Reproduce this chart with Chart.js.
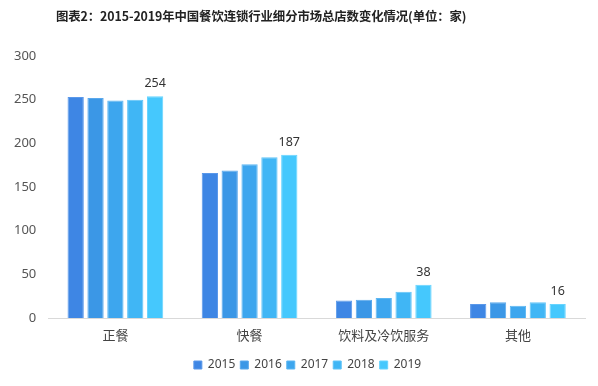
<!DOCTYPE html>
<html><head><meta charset="utf-8">
<script src="https://cdn.jsdelivr.net/npm/chart.js@4/dist/chart.umd.min.js"></script>
<style>
html,body{margin:0;padding:0;background:#fff;}
#wrap{position:relative;width:598px;height:386px;}
#title{position:absolute;left:56px;top:7px;white-space:nowrap;font:bold 12.4px "Noto Sans CJK SC","Liberation Sans",sans-serif;color:#222;letter-spacing:-0.1px;}
canvas{position:absolute;left:0;top:0;}
</style></head><body>
<div id="wrap">
<canvas id="c" width="598" height="386"></canvas>
<div id="title">图表2：2015-2019年中国餐饮连锁行业细分市场总店数变化情况(单位：家)</div></div>
<script>
const categories = ["正餐","快餐","饮料及冷饮服务","其他"];
const years = ["2015","2016","2017","2018","2019"];
const v2015 = [253,166,20,16];
const v2016 = [252,169,21,18];
const v2017 = [249,176,23,14];
const v2018 = [250,184,30,18];
const v2019 = [254,187,38,16];
const yTicks = [0,50,100,150,200,250,300];
const colors = ["#3E86E4","#3B97E6","#3DA6EE","#40B6F5","#45C8FD"];
const borders = ["#5A98EA","#5AA8EC","#5CB6F2","#60C4F8","#66D4FF"];
const series = [v2015,v2016,v2017,v2018,v2019];

const labelPlugin = {
  id:'lastLabels',
  afterDatasetsDraw(chart){
    const ctx = chart.ctx;
    const meta = chart.getDatasetMeta(4);
    ctx.save();
    ctx.font = '12.5px "Noto Sans","Liberation Sans",sans-serif';
    ctx.fillStyle = '#333';
    ctx.textAlign='center';
    ctx.textBaseline='bottom';
    meta.data.forEach((el,i)=>{
      ctx.fillText(String(v2019[i]), el.x, el.y-6);
    });
    ctx.restore();
  }
};
const legendShift = {
  id:'legendShift',
  afterLayout(chart){
    if(chart.legend){chart.legend.left += 14; chart.legend.right += 14;}
  }
};

new Chart(document.getElementById('c'),{
  type:'bar',
  data:{
    labels:categories,
    datasets:years.map((y,i)=>({
      label:y,
      data:series[i],
      backgroundColor:colors[i],
      borderColor:borders[i],
      borderWidth:1,
      barPercentage:0.82,
      categoryPercentage:0.74
    }))
  },
  options:{
    responsive:false,
    animation:false,
    layout:{padding:{left:2,right:13,top:56,bottom:5}},
    plugins:{
      legend:{
        position:'bottom',
        labels:{boxWidth:8,boxHeight:8,padding:5,font:{size:12,family:'"Noto Sans","Liberation Sans",sans-serif'},color:'#444'}
      },
      tooltip:{enabled:false}
    },
    scales:{
      x:{
        grid:{display:false,drawTicks:false},
        border:{color:'#d9d9d9',width:1},
        ticks:{color:'#444',padding:9,font:{size:13,family:'"Noto Sans CJK SC",sans-serif'}},
        afterFit(scale){scale.height = 36;}
      },
      y:{
        min:0,max:300,
        afterBuildTicks(ax){ax.ticks = yTicks.map(v=>({value:v}));},
        grid:{display:false,drawTicks:false},
        border:{display:false},
        ticks:{color:'#555',padding:12,font:{size:13,family:'"Noto Sans","Liberation Sans",sans-serif'}}
      }
    }
  },
  plugins:[labelPlugin, legendShift]
});
</script>
</body></html>
